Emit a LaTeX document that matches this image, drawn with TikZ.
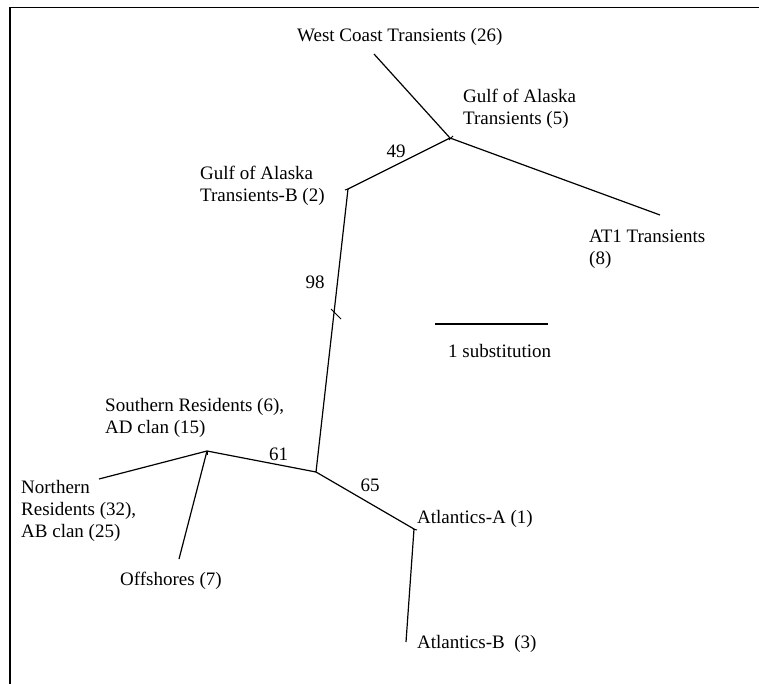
\documentclass[tikz,border=0pt]{standalone}
\usepackage{fontspec}
\setmainfont{Liberation Serif}
\begin{document}
\begin{tikzpicture}[x=1pt,y=-1pt,
  branch/.style={line width=1.2pt},
  ticks/.style={line width=1pt},
  lbl/.style={anchor=base west,inner sep=0pt,align=left,font=\fontsize{19}{22}\selectfont},
  sup/.style={anchor=base,inner sep=0pt,font=\fontsize{19}{22}\selectfont}]
\useasboundingbox (0,0) rectangle (759,684);
\draw[line width=1.5pt] (10,684) -- (10,7.5) -- (759,7.5);
% tree points
\coordinate (wc) at (374,54);
\coordinate (A) at (450,138);
\coordinate (at1) at (660,215);
\coordinate (B) at (348,189);
\coordinate (C) at (316,472);
\coordinate (D) at (207,451);
\coordinate (N) at (99,479);
\coordinate (O) at (179,559);
\coordinate (E) at (414,529);
\coordinate (ab) at (406,642);
\coordinate (t1) at (331,309);
\coordinate (t2) at (341,319);
% branches
\draw[branch] (wc) -- (A) -- (at1);
\draw[branch] (A) -- (B) -- (C) -- (D) -- (N);
\draw[branch] (D) -- (O);
\draw[branch] (C) -- (E) -- (ab);
% tick marks
\draw[ticks] (t1) -- (t2);
\draw[ticks] ([xshift=-1pt,yshift=-2pt]A) -- ([xshift=3pt,yshift=2pt]A);
\draw[ticks] ([xshift=-3pt,yshift=-1pt]B) -- (B);
\draw[ticks] ([yshift=-4pt]D) -- (D);
\draw[ticks] ([xshift=-1pt]E) -- ([xshift=3pt,yshift=-1pt]E);
% scale bar
\coordinate (s1) at (435,324);
\coordinate (s2) at (548,324);
\draw[branch] (s1) -- (s2);
% labels (multi-line nodes: base = last line)
\node[lbl] (lwc) at (297,42) {West Coast Transients (26)};
\node[lbl] (lga) at (463,125) {Gulf of Alaska\\Transients (5)};
\node[lbl] (lgb) at (200,202) {Gulf of Alaska\\Transients-B (2)};
\node[lbl] (lat) at (589,265) {AT1 Transients\\(8)};
\node[lbl] (lsr) at (105,433) {Southern Residents (6),\\AD clan (15)};
\node[lbl] (lnr) at (21,537) {Northern\\Residents (32),\\AB clan (25)};
\node[lbl] (lof) at (120,585) {Offshores (7)};
\node[lbl] (laa) at (417,523) {Atlantics-A (1)};
\node[lbl] (lab) at (417,648) {Atlantics-B\ \ (3)};
\node[lbl] (lsc) at (448,357) {1 substitution};
% bootstrap values
\node[sup] (b49) at (396,158) {49};
\node[sup] (b98) at (315,288) {98};
\node[sup] (b61) at (278.5,460) {61};
\node[sup] (b65) at (370,491) {65};
\end{tikzpicture}
\end{document}
